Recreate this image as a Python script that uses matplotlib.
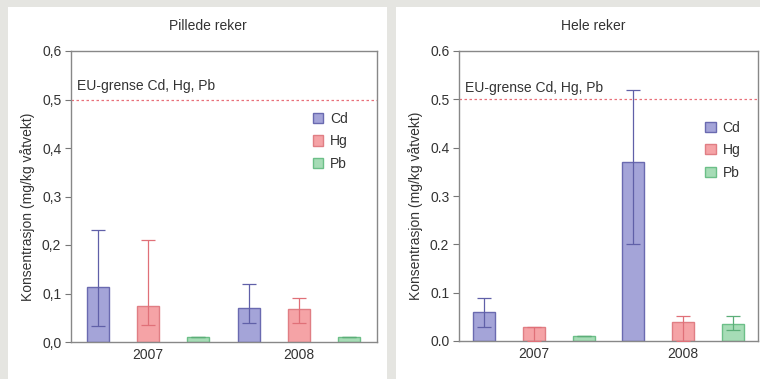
import matplotlib
matplotlib.use("Agg")
import matplotlib.pyplot as plt
from matplotlib.patches import Rectangle
import matplotlib.ticker as mticker

W, H = 760, 379
fig = plt.figure(figsize=(W/100, H/100), dpi=100)
fig.patch.set_facecolor("#e5e5e1")

plt.rcParams['font.family'] = ['Liberation Sans', 'DejaVu Sans']

# Data
years = ["2007", "2008"]
metals = ["Cd", "Hg", "Pb"]
# Pillede reker
pil_mean = {"Cd": [0.113, 0.070], "Hg": [0.075, 0.068], "Pb": [0.010, 0.010]}
pil_low = {"Cd": [0.033, 0.040], "Hg": [0.035, 0.040], "Pb": [0.010, 0.010]}
pil_high = {"Cd": [0.230, 0.120], "Hg": [0.210, 0.090], "Pb": [0.010, 0.010]}
# Hele reker
hel_mean = {"Cd": [0.060, 0.370], "Hg": [0.030, 0.040], "Pb": [0.010, 0.036]}
hel_low = {"Cd": [0.030, 0.200], "Hg": [0.000, 0.000], "Pb": [0.010, 0.022]}
hel_high = {"Cd": [0.088, 0.520], "Hg": [0.030, 0.052], "Pb": [0.010, 0.052]}
eu_limit = 0.5
yticks = [0.0, 0.1, 0.2, 0.3, 0.4, 0.5, 0.6]

face = {"Cd": "#a4a4d8", "Hg": "#f5a3a6", "Pb": "#a6dcb6"}
edge = {"Cd": "#6a6ab0", "Hg": "#e07e84", "Pb": "#6cbf88"}
ecol = {"Cd": "#6060a8", "Hg": "#e07078", "Pb": "#5cae78"}

FS = 10

# White panels
def px_rect(x0, y0, x1, y1, **kw):
    return Rectangle((x0/W, 1 - y1/H), (x1-x0)/W, (y1-y0)/H, transform=fig.transFigure, **kw)

fig.patches.append(px_rect(8, 7, 387, 379, facecolor="white", edgecolor="none", zorder=-5))
fig.patches.append(px_rect(396, 7, 760, 379, facecolor="white", edgecolor="none", zorder=-5))

def make_ax(x0, x1, y0, y1):
    ax = fig.add_axes([x0/W, 1 - y1/H, (x1-x0)/W, (y1-y0)/H])
    ax.set_zorder(2)
    return ax

def draw(ax, mean, low, high, title, decsep, xlim, leg_pos, text_y, title_x):
    pos = 0
    for yi in range(len(years)):
        for m in metals:
            v = mean[m][yi]
            ax.bar(pos, v, width=0.44, color=face[m], edgecolor=edge[m], linewidth=1.0, zorder=2)
            lo = v - low[m][yi]
            hi = high[m][yi] - v
            ax.errorbar(pos, v, yerr=[[lo], [hi]], fmt="none", ecolor=ecol[m],
                        elinewidth=0.9, capsize=5, capthick=0.9, zorder=3)
            pos += 1
    ax.set_xlim(*xlim)
    ax.set_ylim(0, 0.6)
    ax.axhline(eu_limit, color="#e8707a", linestyle=(0, (2, 2)), linewidth=0.9, zorder=1)
    ax.text(0.02, text_y, "EU-grense Cd, Hg, Pb", transform=ax.transAxes, fontsize=FS,
            color="#333333", va="center", ha="left")
    ax.set_xticks([1, 4])
    ax.set_xticklabels(years, fontsize=FS, color="#333333")
    ax.tick_params(axis="x", length=0, pad=4)
    ax.set_yticks(yticks)
    ax.yaxis.set_major_formatter(mticker.FuncFormatter(
        lambda v, p: f"{v:.1f}".replace(".", decsep)))
    ax.tick_params(axis="y", direction="out", length=4, width=0.8, color="#777777",
                   labelsize=FS, labelcolor="#333333", pad=3)
    for s in ax.spines.values():
        s.set_color("#888888")
        s.set_linewidth(1.0)
    ax.set_ylabel("Konsentrasjon (mg/kg våtvekt)", fontsize=FS, color="#333333", labelpad=5)
    ax.yaxis.label.set_y(0.465)
    fig.text(title_x / W, 1 - 26 / H, title, ha="center", va="center", fontsize=FS, color="#333333")
    handles = [Rectangle((0, 0), 1, 1, facecolor=face[m], edgecolor=edge[m]) for m in metals]
    ax.legend(handles, metals, loc="upper left", bbox_to_anchor=leg_pos, frameon=False,
              fontsize=FS, handlelength=0.75, handleheight=0.75, handletextpad=0.5,
              labelspacing=0.6, borderpad=0, labelcolor="#333333")

ax1 = make_ax(71, 377, 51, 342)
draw(ax1, pil_mean, pil_low, pil_high, "Pillede reker", ",", (-0.54, 5.56),
     (0.767, 0.814), 0.88, 208)

ax2 = make_ax(459, 758, 51, 341)
draw(ax2, hel_mean, hel_low, hel_high, "Hele reker", ".", (-0.5, 5.5),
     (0.80, 0.783), 0.872, 593)

fig.savefig("out.png", dpi=100, facecolor=fig.get_facecolor())
